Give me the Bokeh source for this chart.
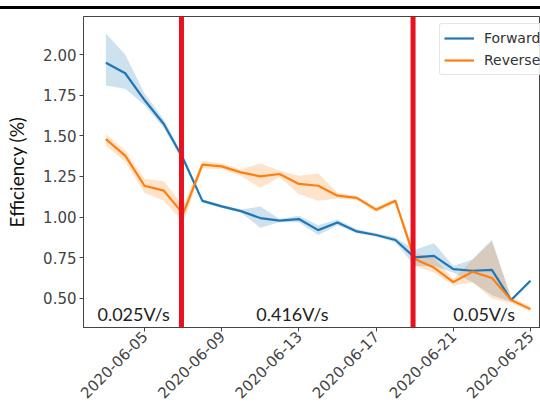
import pandas as pd
from math import pi
from bokeh.plotting import figure
from bokeh.models import (ColumnDataSource, FixedTicker, DatetimeTickFormatter, Range1d,
                          Label, Span, NumeralTickFormatter)
from bokeh.embed import file_html
from bokeh.resources import INLINE

# ---------------- data ----------------
dates = pd.date_range("2020-06-03", "2020-06-25", freq="D")

forward_mean = [1.95, 1.885, 1.72, 1.573, 1.36, 1.10, 1.066, 1.037, 0.994, 0.978, 0.988, 0.92,
                0.967, 0.912, 0.89, 0.859, 0.752, 0.762, 0.68, 0.67, 0.676, 0.49, 0.608]
forward_lower = [1.81, 1.79, 1.69, 1.55, 1.34, 1.09, 1.056, 1.027, 0.935, 0.968, 0.968, 0.89,
                 0.95, 0.90, 0.88, 0.845, 0.70, 0.70, 0.66, 0.60, 0.52, 0.48, 0.60]
forward_upper = [2.13, 2.00, 1.76, 1.60, 1.38, 1.11, 1.076, 1.047, 1.065, 0.988, 1.008, 0.95,
                 0.985, 0.925, 0.90, 0.875, 0.80, 0.84, 0.70, 0.74, 0.86, 0.50, 0.615]

reverse_mean = [1.48, 1.378, 1.193, 1.163, 1.02, 1.323, 1.312, 1.275, 1.251, 1.265, 1.204, 1.193,
                1.132, 1.118, 1.046, 1.10, 0.742, 0.69, 0.60, 0.664, 0.625, 0.49, 0.434]
reverse_lower = [1.44, 1.34, 1.15, 1.10, 0.97, 1.30, 1.295, 1.255, 1.18, 1.245, 1.14, 1.10,
                 1.115, 1.105, 1.03, 1.085, 0.70, 0.66, 0.58, 0.60, 0.50, 0.47, 0.42]
reverse_upper = [1.51, 1.41, 1.235, 1.22, 1.07, 1.345, 1.33, 1.295, 1.33, 1.285, 1.255, 1.27,
                 1.15, 1.13, 1.06, 1.115, 0.78, 0.75, 0.62, 0.74, 0.85, 0.51, 0.45]

series_names = ["Forward", "Reverse"]
series_colors = ["#1f77b4", "#ff7f0e"]

y_ticks = [0.50, 0.75, 1.00, 1.25, 1.50, 1.75, 2.00]
x_tick_labels = ["2020-06-05", "2020-06-09", "2020-06-13", "2020-06-17", "2020-06-21", "2020-06-25"]

rate_labels = ["0.025V/s", "0.416V/s", "0.05V/s"]
rate_label_pos = ["2020-06-02 13:30", "2020-06-10 19:00", "2020-06-21 00:00"]
rate_change_dates = ["2020-06-06 22:00", "2020-06-18 22:00"]

# ---------------- helpers ----------------
def ms(t):
    return pd.Timestamp(t).value / 1e6

day = 86400000.0
x_start = ms("2020-06-05") - 3.16 * day
x_end = ms("2020-06-25") + 0.52 * day
y_lo, y_hi = 0.321, 2.234

src = ColumnDataSource(dict(
    x=dates, fm=forward_mean, fl=forward_lower, fu=forward_upper,
    rm=reverse_mean, rl=reverse_lower, ru=reverse_upper))

p = figure(width=540, height=407, x_axis_type="datetime", output_backend="svg",
           toolbar_location=None, min_border_left=83, min_border_right=0,
           min_border_top=16, min_border_bottom=80,
           x_range=Range1d(x_start, x_end), y_range=Range1d(y_lo, y_hi))

p.background_fill_color = "white"
p.border_fill_alpha = 0
# thin black document rule above the chart (page decoration in the original)
p.styles = {"background": "linear-gradient(to bottom, #ffffff 0px, #ffffff 6px, #000000 6px, "
                          "#000000 9px, #ffffff 9px, #ffffff 100%)"}
p.xgrid.visible = False
p.ygrid.visible = False
p.outline_line_color = "#444444"
p.outline_line_width = 1

# bands
p.varea(x="x", y1="fl", y2="fu", source=src, fill_color=series_colors[0], fill_alpha=0.22)
p.varea(x="x", y1="rl", y2="ru", source=src, fill_color=series_colors[1], fill_alpha=0.22)
# lines
p.line(x="x", y="fm", source=src, line_color=series_colors[0], line_width=2.2,
       legend_label=series_names[0])
p.line(x="x", y="rm", source=src, line_color=series_colors[1], line_width=2.2,
       legend_label=series_names[1])

# axes
p.xaxis.ticker = FixedTicker(ticks=[ms(t) for t in x_tick_labels])
fmt = "%Y-%m-%d"
p.xaxis.formatter = DatetimeTickFormatter(days=fmt, months=fmt, years=fmt, hours=fmt,
                                          hourmin=fmt, minutes=fmt, minsec=fmt, seconds=fmt,
                                          milliseconds=fmt, microseconds=fmt)
p.xaxis.major_label_orientation = pi / 4
p.yaxis.ticker = FixedTicker(ticks=y_ticks)
p.yaxis.formatter = NumeralTickFormatter(format="0.00")

for ax in (p.xaxis, p.yaxis):
    ax.axis_line_color = "#444444"
    ax.major_tick_line_color = "#444444"
    ax.major_tick_in = 0
    ax.major_tick_out = 4
    ax.minor_tick_line_color = None
    ax.major_label_text_font = "DejaVu Sans"
    ax.major_label_text_font_size = "15px"
    ax.major_label_text_color = "#444444"
p.xaxis.major_label_standoff = 2
p.yaxis.major_label_standoff = 3

p.yaxis.axis_label = "Efficiency (%)"
p.yaxis.axis_label_text_font = "Lato"
p.yaxis.axis_label_text_font_size = "19px"
p.yaxis.axis_label_text_font_style = "normal"
p.yaxis.axis_label_text_color = "#111111"
p.yaxis.axis_label_standoff = 12

# legend
lg = p.legend[0]
lg.location = (356, 252)
lg.label_text_font = "DejaVu Sans"
lg.label_text_font_size = "14px"
lg.label_text_color = "#333333"
lg.glyph_width = 30
lg.glyph_height = 20
lg.label_height = 20
lg.label_standoff = 10
lg.spacing = 2
lg.padding = 4
lg.margin = 0
lg.border_line_color = "#cccccc"
lg.border_line_width = 1
lg.background_fill_alpha = 0.85
lg.border_radius = 3

# red scan-rate change lines
for d in rate_change_dates:
    p.add_layout(Span(location=ms(d), dimension="height", line_color="#e8111f",
                      line_width=5, level="overlay"))

# rate annotations
for t, d in zip(rate_labels, rate_label_pos):
    p.add_layout(Label(x=ms(d), y=0.405, text=t, text_font="Lato", text_font_size="18px",
                       text_baseline="alphabetic", text_color="#222222"))

open("out.html", "w").write(file_html(p, INLINE))
